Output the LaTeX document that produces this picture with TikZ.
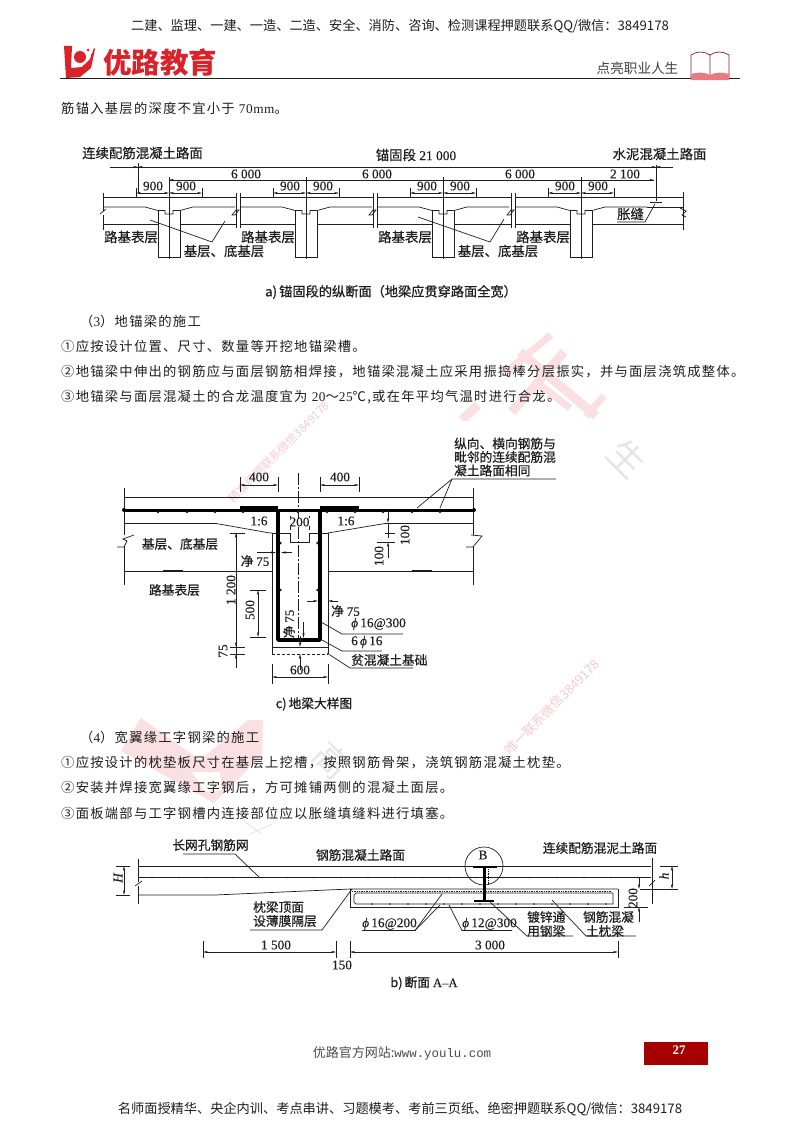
\documentclass[tikz,border=0pt]{standalone}
\usepackage{fontspec}
\setmainfont{Noto Sans CJK SC}
\newfontfamily\lat{Liberation Serif}
\newfontfamily\latb[LetterSpace=4]{Liberation Serif}
\newfontfamily\latmono{Liberation Mono}
\newfontfamily\bodyf[LetterSpace=9.5]{Noto Sans CJK SC}
\newfontfamily\labf[FakeBold=0.5]{Noto Sans CJK SC}
\newfontfamily\capf[FakeBold=0.9]{Noto Sans CJK SC}
\newfontfamily\numf[FakeBold=0.25]{Liberation Serif}
\usetikzlibrary{arrows.meta}
\definecolor{ink}{HTML}{1E1E1E}
\definecolor{pinkw}{HTML}{FBE0E3}
\definecolor{pinkt}{HTML}{F6CBCF}
\definecolor{grayw}{HTML}{E6E6E6}
\definecolor{logored}{HTML}{D9232A}
\newcommand{\tz}[1]{\fontsize{#1}{#1}\selectfont}
\tikzset{
 body/.style={anchor=west,inner sep=0,text=ink,font=\bodyf\tz{13.3}},
 lab/.style={inner sep=0,text=ink,font=\labf\tz{12.7}},
 laba/.style={inner sep=0,text=ink,font=\labf\tz{13.4}},
 num/.style={inner sep=0,text=ink,font=\numf\tz{13.3}},
 captext/.style={inner sep=0,text=ink,font=\capf\tz{12.7}},
 ln/.style={draw=ink,line width=0.7pt},
 thn/.style={draw=ink,line width=0.5pt},
 dimn/.style={draw=ink,line width=0.5pt,{Stealth[length=5pt,width=2.2pt]}-{Stealth[length=5pt,width=2.2pt]}},
 arr/.style={draw=ink,line width=0.5pt,-{Stealth[length=5pt,width=2.2pt]}},
 hat/.style={draw=ink,line width=1.4pt},
 rebar/.style={draw=black,line width=3pt},
 rdot/.style={circle,fill=ink,inner sep=0,minimum size=2.6pt},
 wmbar/.style={draw=pinkw,line width=#1},
}
\begin{document}
\begin{tikzpicture}[x=1pt,y=-1pt]
\useasboundingbox[fill=white] (0,0) rectangle (800,1132);
% ---------- watermarks
\begin{scope}
\clip (440,320) rectangle (640,420);
\draw[wmbar=7pt] (551,335) -- (506,372);
\draw[wmbar=9pt] (520,352) -- (596,416);
\draw[wmbar=9pt] (564,352) -- (512,412);
\draw[wmbar=7pt] (604,396) -- (586,416);
\draw[wmbar=7pt] (540,385) -- (570,408);
\draw[wmbar=9pt] (478,405) -- (462,420);
\end{scope}
\fill[pinkw] (121,751) -- (141,718) -- (200,760) -- (248,720) -- (263,720) -- (262,755) -- (214,803) -- cycle;
\fill[white] (192,772) -- (220,772) -- (222,790) -- (205,792) -- cycle;
\node[rotate=-45,text=grayw,font=\tz{36}] (wm1) at (627,458) {生};
\node[rotate=-45,text=grayw,font=\tz{34}] (wm2) at (332,760) {高};
\draw[grayw,line width=1pt] (245,822) -- (262,834) (250,834) -- (272,824);
\node[rotate=45,text=pinkt,font=\tz{11.5}] (wm4) at (279,452) {精准押题联系微信3849178};
\node[rotate=45,text=pinkt,font=\tz{13}] (wm5) at (552,707) {唯一联系微信3849178};
% ---------- header
\node[inner sep=0,text=ink,font=\tz{13.2}] (h1) at (400,26) {二建、监理、一建、一造、二造、安全、消防、咨询、检测课程押题联系QQ/微信：3849178};
\fill[logored] (64,46) -- (72,46) -- (71,68) -- (82,67) -- (90,59) -- (94,48) -- (95,49) -- (91,68) -- (80,77) -- (66,78) -- cycle;
\fill[logored] (80,57) circle (6pt);
\fill[logored] (88,50) circle (1.5pt) (92,55) circle (1.5pt) (91,62) circle (1.5pt) (84,66) circle (1.5pt);
\node[inner sep=0,text=logored,font=\tz{28.5}\bfseries] (h2) at (160,62.5) {优路教育};
\draw[draw=ink,line width=1pt] (60,78) -- (740,78);
\node[inner sep=0,text=ink!85,font=\tz{13.6}] (h3) at (637.5,68) {点亮职业人生};
\draw[draw=logored!70!black,line width=0.7pt] (691,78) -- (691,55) .. controls (697,51) and (704,51) .. (710,55) .. controls (716,51) and (723,51) .. (729,55) -- (729,78) -- cycle (710,55) -- (710,76);
\fill[logored!60] (691,74) .. controls (698,72) and (704,72) .. (710,75) .. controls (716,72) and (722,72) .. (729,74) -- (729,80) -- (691,80) -- cycle;
\node[body] (t0) at (61,108) {筋锚入基层的深度不宜小于 {\latb 70mm}。};
% ---------- Diagram a
\node[laba] (a1) at (142.5,153) {连续配筋混凝土路面};
\node[laba] (a2) at (416,155) {锚固段{\numf\ 21 000}};
\node[laba] (a3) at (659.5,154) {水泥混凝土路面};
\coordinate (aL) at (138,167); \coordinate (aR) at (656,167);
\draw[thn] (110,167) -- (673,167);
\draw[arr] (124,167) -- (aL);
\draw[arr] (174,167) -- (aL);
\draw[arr] (640,167) -- (aR);
\draw[arr] (672,167) -- (aR);
\draw[thn] (138,163) -- (138,193);
\draw[thn] (656,165) -- (656,201);
\draw[thn] (169,180) -- (654,180);
\foreach \c/\n in {169/a,306/b,443/c,581/d}{
  \draw[ln] (\c,177) -- (\c,259);
  \draw[dimn] (\c-33,193) -- (\c,193);
  \draw[dimn] (\c,193) -- (\c+33,193);
  \draw[thn] (\c-33,188) -- (\c-33,197);
  \draw[thn] (\c+33,188) -- (\c+33,197);
  \node[num] (n1\n) at (\c-16,186) {900};
  \node[num] (n2\n) at (\c+17,186) {900};
  \draw[ln] (\c-11,211) -- (\c-11,257) -- (\c+11,257) -- (\c+11,211);
  \draw[ln] (\c-66,207) -- (\c-24,207) -- (\c-11,210.5) -- (\c-4,210.5) -- (\c-4,214) -- (\c+4,214) -- (\c+4,210.5) -- (\c+11,210.5) -- (\c+24,207) -- (\c+66,207);
  \draw[hat] (\c-54,224.5) -- (\c-44,224.5);
  \draw[hat] (\c+40,224.5) -- (\c+50,224.5);
}
\draw[arr] (181,180) -- (169,180);
\draw[arr] (630,180) -- (654,180);
\foreach \x/\t in {246/6 000,377/6 000,520/6 000,625/2 100}{
  \node[num] (x\x) at (\x,174) {\t};
}
\draw[ln] (103,197) -- (683,197);
\draw[ln] (103,193) -- (103,211) (103,215) -- (103,230);
\draw[ln] (100,214) -- (106,209);
\draw[ln] (683,192) -- (683,230);
\draw[ln] (680,208) -- (686,211) -- (682,215) -- (686,217);
\draw[ln] (647,207) -- (683,207);
\draw[ln] (103,224.5) -- (158,224.5) (180,224.5) -- (295,224.5) (317,224.5) -- (432,224.5) (454,224.5) -- (570,224.5) (592,224.5) -- (683,224.5);
\foreach \j in {238,375,513}{
  \fill[white] (\j-1.6,196) rectangle (\j+1.6,228);
  \draw[ln] (\j-2,193) -- (\j-2,228);
  \draw[ln] (\j+2,193) -- (\j+2,228);
  \draw[ln] (\j-6,215) -- (\j-2,210) -- (\j+1,210) -- (\j-3,215) -- cycle;
}
\draw[ln] (650,202) -- (662,202);
\foreach \x in {131,268,405,543}{ \node[laba] (r\x) at (\x,237) {路基表层}; }
\node[laba] (b1) at (224,251) {基层、底基层};
\node[laba] (b2) at (498,251) {基层、底基层};
\draw[ln] (150,220) -- (212,242) -- (225,221);
\draw[ln] (418,217) -- (490,242) -- (504,219);
\node[laba] (zf) at (630.5,214) {胀缝};
\draw[ln] (617,222) -- (645,222) -- (655,204);
\node[captext,font=\capf\tz{13.2}] (capa) at (391,292) {a)\,锚固段的纵断面（地梁应贯穿路面全宽）};
% ---------- text
\node[body] (t1) at (80,321) {（{\latb 3}）地锚梁的施工};
\node[body] (t2) at (61,346) {①应按设计位置、尺寸、数量等开挖地锚梁槽。};
\node[body] (t3) at (61,372) {②地锚梁中伸出的钢筋应与面层钢筋相焊接，地锚梁混凝土应采用振捣棒分层振实，并与面层浇筑成整体。};
\node[body] (t4) at (61,397) {③地锚梁与面层混凝土的合龙温度宜为 {\latb 20}～{\latb 25}℃,或在年平均气温时进行合龙。};
% ---------- Diagram c
\node[lab,anchor=west] (c1) at (454,443.5) {纵向、横向钢筋与};
\node[lab,anchor=west] (c2) at (454,457) {毗邻的连续配筋混};
\node[lab,anchor=west] (c3) at (454,470.5) {凝土路面相同};
\draw[ln] (417,508) -- (452,479) -- (556,479);
\draw[ln] (440,508) -- (452,479);
\draw[ln] (124,497) -- (473,497);
\draw[ln] (124,488) -- (124,535) (124,546) -- (124,585);
\draw[ln] (473,488) -- (473,535) (473,546) -- (473,585);
\draw[ln] (117,547) -- (124,547) -- (127,541) -- (123,539) -- (134,535);
\draw[ln] (466,547) -- (473,547) -- (482,536) -- (471,535);
\draw[ln] (124,523.5) -- (216,523.5) -- (270,533) -- (272,533);
\draw[ln] (473,523.5) -- (385,523.5) -- (328,533);
\draw[rebar] (124,510) -- (474,510);
\fill[black] (240,505.5) rectangle (278,511);
\fill[black] (320,505.5) rectangle (359,511);
\foreach \x in {158,187,215,243,298,327,355,383,412,440}{ \node[rdot] (d\x) at (\x,512) {}; }
\fill[black] (124,510) circle (2pt) (474,510) circle (2pt);
\draw[ln] (272,533) -- (272,654);
\draw[ln] (328,533) -- (328,654);
\draw[ln] (272,533) -- (290,533) -- (290,542) -- (309,542) -- (309,533) -- (328,533);
\draw[ln] (272,647) -- (328,647);
\draw[ln,dash pattern=on 3pt off 2pt] (272,654) -- (328,654);
\draw[ln,dash pattern=on 12pt off 2pt on 2pt off 2pt] (298.5,473) -- (298.5,640);
\draw[draw=black,line width=3.8pt,line join=round] (278,510) -- (278,640) -- (320,640) -- (320,510);
\foreach \y in {543,590}{ \node[rdot] (l\y) at (280.5,\y) {}; \node[rdot] (m\y) at (317.5,\y) {}; }
% 400
\draw[dimn] (240,485) -- (278,485); \draw[dimn] (320,485) -- (359,485);
\foreach \x in {240,278,320,359}{ \draw[thn] (\x,477) -- (\x,492); }
\node[num] (c400a) at (259,477) {400};
\node[num] (c400b) at (340,477) {400};
% 200
\draw[thn] (290,516) -- (290,530); \draw[thn] (309,516) -- (309,530);
\node[num,fill=white,inner xsep=0.5pt] (c200) at (299.5,522) {200};
\node[num] (r16a) at (259,521) {1:6};
\node[num] (r16b) at (346,521) {1:6};
\node[lab] (c5) at (180,544) {基层、底基层};
\node[lab] (c6) at (174.5,590) {路基表层};
\draw[ln] (124,571) -- (272,571) (328,571) -- (473,571);
\draw[hat] (163,571) -- (183,571); \draw[hat] (412,571) -- (432,571);
% 1200
\draw[thn] (236,533) -- (236,668);
\draw[thn] (230,533) -- (245,533);
\draw[arr] (236,545) -- (236,533);
\node[num,rotate=90] (c1200) at (231,590) {1 200};
\draw[dimn] (258,590) -- (258,637);
\draw[thn] (250,590) -- (266,590) (250,637) -- (266,637);
\node[num,rotate=90] (c500) at (250,610) {500};
\draw[thn] (230,647) -- (245,647) (230,654) -- (245,654);
\draw[arr] (236,635) -- (236,647);
\draw[arr] (236,668) -- (236,654);
\node[num,rotate=90] (c75a) at (223,651) {75};
\node[lab] (j1) at (255,561) {净 {\numf\tz{13}75}};
\draw[arr] (257,552.5) -- (276,552.5);
\draw[arr] (292,552.5) -- (281,552.5);
\node[lab] (j2) at (345.5,611) {净 {\numf\tz{13}75}};
\draw[arr] (307,601) -- (318,601);
\draw[arr] (338,601) -- (328,601);
\node[lab,rotate=90] (j3) at (289,624) {净 {\numf\tz{13}75}};
\draw[arr] (303.5,622) -- (303.5,638);
\draw[arr] (300,670) -- (300,654);
\draw[arr] (300,636) -- (300,647);
\node[num,anchor=west] (s1) at (351,624) {{\itshape ϕ}\,16@300};
\node[num,anchor=west] (s2) at (351,642) {6\,{\itshape ϕ}\,16};
\node[lab,anchor=west] (s3) at (351,660) {贫混凝土基础};
\draw[ln] (321,622) -- (342,634) -- (403,634);
\draw[ln] (322,640) -- (342,651) -- (382,651);
\draw[ln] (327,653) -- (350,668) -- (413,668);
\draw[dimn] (272,677) -- (328,677);
\draw[thn] (272,664) -- (272,684) (328,664) -- (328,684);
\node[num] (c600) at (300,670) {600};
\draw[arr] (388,510) -- (388,523);
\draw[thn] (385,533) -- (395,533);
\draw[thn] (377,542) -- (395,542);
\draw[thn] (388,523) -- (388,538);
\draw[arr] (388,558) -- (388,542);
\node[num,rotate=90] (c100a) at (405,535) {100};
\node[num,rotate=90] (c100b) at (379,556) {100};
\node[captext] (capc) at (314,704) {c)\,地梁大样图};
% ---------- text
\node[body] (t5) at (80,737) {（{\latb 4}）宽翼缘工字钢梁的施工};
\node[body] (t6) at (61,763) {①应按设计的枕垫板尺寸在基层上挖槽，按照钢筋骨架，浇筑钢筋混凝土枕垫。};
\node[body] (t7) at (61,788) {②安装并焊接宽翼缘工字钢后，方可摊铺两侧的混凝土面层。};
\node[body] (t8) at (61,813) {③面板端部与工字钢槽内连接部位应以胀缝填缝料进行填塞。};
% ---------- Diagram b
\node[lab] (e1) at (210.5,845) {长网孔钢筋网};
\node[lab] (e2) at (360.5,855) {钢筋混凝土路面};
\node[lab] (e3) at (600,848) {连续配筋混泥土路面};
\draw[ln] (183,854) -- (235,854) -- (259,877);
\draw[ln] (138,866) -- (651,866);
\draw[ln] (138,877) -- (651,877);
\foreach \i in {0,...,18}{ \node[rdot,minimum size=1.8pt] (g\i) at (152+27*\i,877.5) {}; }
\draw[ln] (138,859) -- (138,882) (138,886) -- (138,904);
\draw[ln] (135,886) -- (142,881);
\draw[ln] (652,858) -- (652,904);
\draw[ln] (649,886) -- (655,880);
\draw[ln] (138,895) -- (215,895) -- (350,889) -- (618,889);
\draw[ln,densely dotted,line width=1.4pt] (352,891.5) -- (612,891.5);
\draw[ln] (350,889) -- (350,907) -- (618,907) -- (618,889);
\draw[ln] (613,893) -- (356,893) -- (354,895) -- (354,902) -- (356,904) -- (613,904) -- (613,893);
\foreach \i in {0,...,13}{ \node[rdot,minimum size=1.6pt] (f\i) at (372+18*\i,904) {}; }
% I beam
\draw[ln] (484,866) circle (19pt);
\node[num] (bB) at (483,855) {B};
\draw[draw=black,line width=2.4pt] (473,867) -- (497,867) (484.5,867) -- (484.5,901) (474,901) -- (494,901);
\draw[draw=black,line width=0.8pt,densely dotted] (488,869) -- (488,885);
% dims
\draw[thn] (116,866) -- (130,866) (116,895) -- (130,895);
\draw[dimn] (124,866) -- (124,895);
\node[num,rotate=90,font=\numf\itshape\tz{13}] (eH) at (118,878) {H};
\draw[thn] (660,866) -- (678,866) (640,889) -- (678,889);
\draw[dimn] (672,866) -- (672,889);
\node[num,rotate=90,font=\numf\itshape\tz{13}] (eh) at (664,876) {h};
\draw[arr] (639,877) -- (639,889);
\draw[arr] (639,922) -- (639,907);
\draw[thn] (624,907) -- (648,907);
\node[num,rotate=90] (e200) at (633,898) {200};
\node[num,anchor=west] (p1) at (362,924) {{\itshape ϕ}\,16@200};
\node[num,anchor=west] (p2) at (462,924) {{\itshape ϕ}\,12@300};
\draw[ln] (362,930.5) -- (415,930.5) -- (442,894);
\draw[ln] (415,930.5) -- (440,905);
\draw[ln] (449,905) -- (462,930.5) -- (512,930.5);
\node[lab,anchor=west] (p3) at (527,917) {镀锌通};
\node[lab,anchor=west] (p4) at (527,931) {用钢梁};
\draw[ln] (490,902) -- (527,936) -- (573,936);
\node[lab] (p5) at (608.5,917) {钢筋混凝};
\node[lab] (p6) at (605,931) {土枕梁};
\draw[ln] (552,900) -- (586,936) -- (636,936);
\node[lab,anchor=west] (p7) at (253,907) {枕梁顶面};
\node[lab,anchor=west] (p8) at (253,921) {设薄膜隔层};
\draw[ln] (250,930) -- (322,930) -- (352,889);
\draw[dimn] (203,952) -- (336,952);
\draw[dimn] (350,952) -- (618,952);
\foreach \x in {203,336,350,618}{ \draw[ln] (\x,941) -- (\x,958); }
\node[num] (w1) at (276,945) {1 500};
\node[num] (w2) at (342,965) {150};
\node[num] (w3) at (490,945) {3 000};
\node[captext] (capb) at (424,983) {b)\,断面 {\numf A–A}};
% ---------- footer
\node[inner sep=0,text=ink!80,font=\tz{13}] (f1) at (402,1053) {优路官方网站:{\latmono\tz{12.4}www.youlu.com}};
\fill[fill=red!65!black] (644,1042) rectangle (708,1065);
\node[inner sep=0,text=white,font=\lat\bfseries\tz{13}] (f2) at (679,1050) {27};
\node[inner sep=0,text=ink,font=\tz{13.2}] (f3) at (400,1109) {名师面授精华、央企内训、考点串讲、习题模考、考前三页纸、绝密押题联系QQ/微信：3849178};
\end{tikzpicture}
\end{document}
